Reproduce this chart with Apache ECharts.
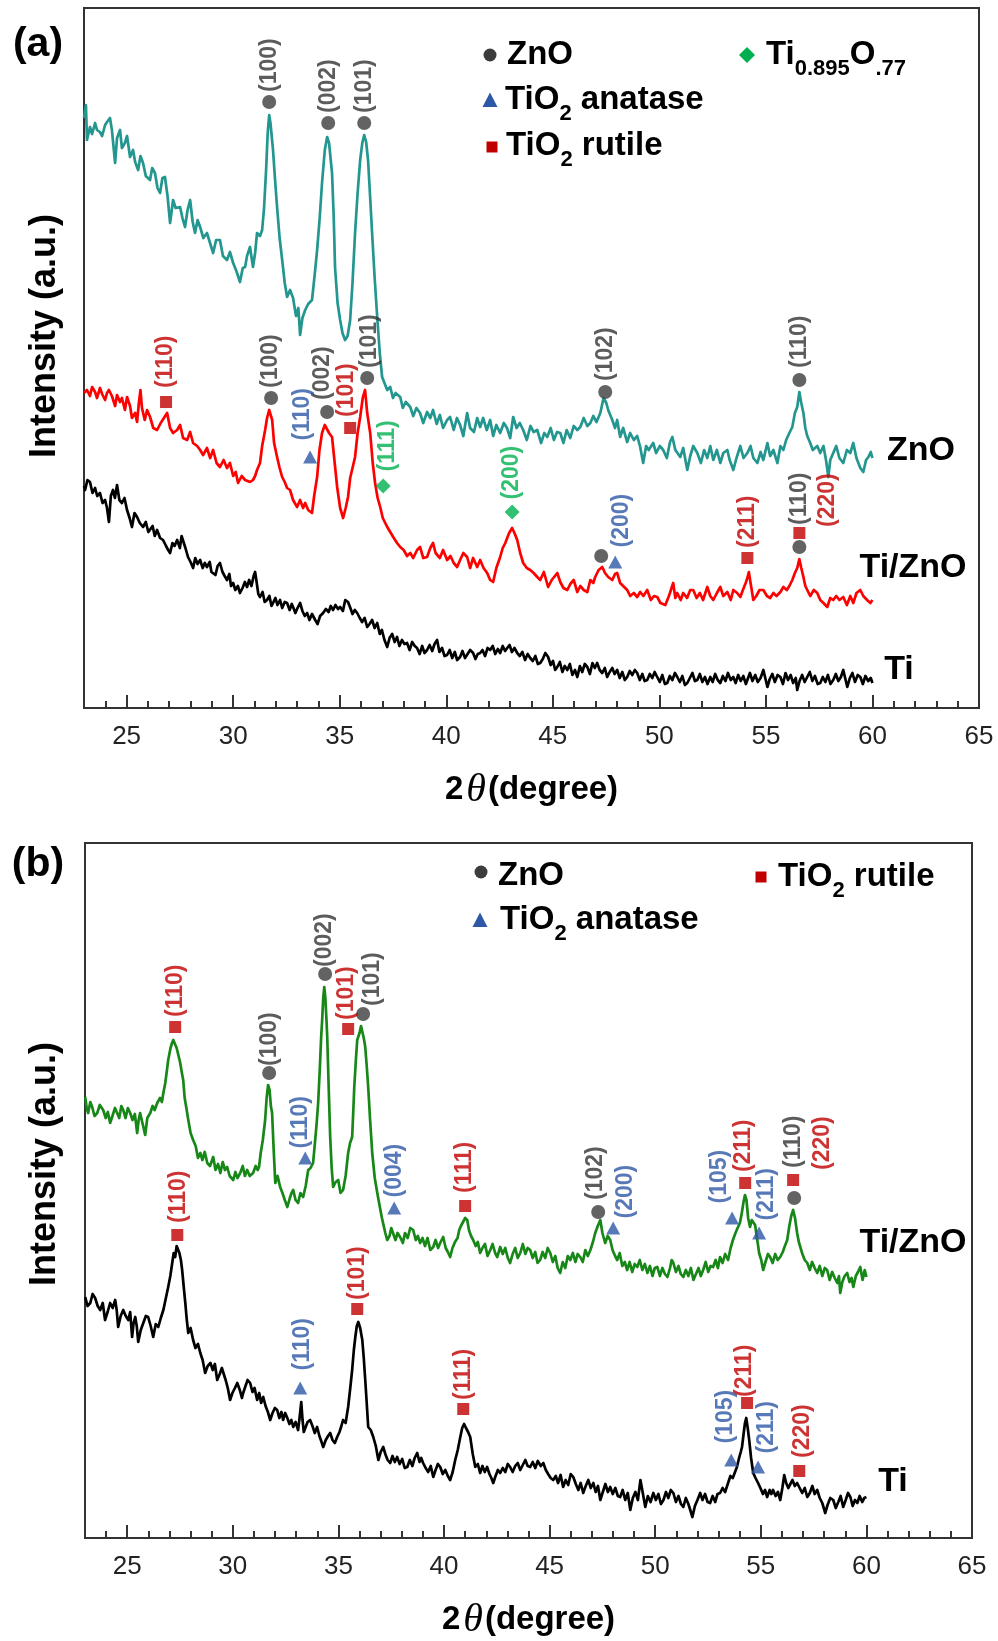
<!DOCTYPE html>
<html>
<head>
<meta charset="utf-8">
<title>XRD patterns</title>
<script src="https://cdn.jsdelivr.net/npm/echarts@6/dist/echarts.min.js"></script>
<style>
  html, body { margin: 0; padding: 0; background: #fff; }
  #main-info { width: 998px; height: 1641px; }
</style>
</head>
<body>
<div id="main-info"></div>
<script>
// x axis ticks (2 theta, degree)
const xMajorTicks = [25, 30, 35, 40, 45, 50, 55, 60, 65];
const xMinorTicks = [];
for (let t = 24; t < 65; t++) { if (t % 5 !== 0) xMinorTicks.push(t); }

// (a) ZnO film, Ti/ZnO, Ti  -- [2theta, intensity a.u.]
const aZnO = [[23.00,590],[23.09,603],[23.14,568],[23.28,581],[23.38,574],[23.52,585],[23.61,578],[23.75,576],[23.85,572],[23.99,583],[24.08,586],[24.22,590],[24.31,578],[24.46,545],[24.55,570],[24.69,578],[24.78,560],[24.92,565],[25.02,572],[25.16,551],[25.30,558],[25.40,546],[25.54,538],[25.65,552],[25.77,545],[25.90,532],[26.10,528],[26.20,540],[26.33,535],[26.45,520],[26.57,515],[26.68,530],[26.80,531],[26.92,512],[27.04,485],[27.18,508],[27.30,500],[27.51,501],[27.62,490],[27.74,481],[27.86,498],[27.98,508],[28.10,486],[28.21,475],[28.33,488],[28.45,481],[28.60,470],[28.77,475],[28.90,466],[29.06,455],[29.20,468],[29.38,468],[29.52,452],[29.71,448],[29.85,456],[30.00,445],[30.15,437],[30.32,426],[30.45,440],[30.56,441],[30.65,452],[30.79,461],[30.93,441],[31.03,455],[31.12,475],[31.26,472],[31.36,478],[31.45,500],[31.55,540],[31.62,575],[31.69,593],[31.75,585],[31.87,558],[31.96,530],[32.06,501],[32.18,470],[32.30,448],[32.42,425],[32.53,411],[32.67,418],[32.81,410],[32.95,392],[33.06,400],[33.14,373],[33.25,390],[33.38,398],[33.52,404],[33.70,408],[33.82,432],[33.94,458],[34.06,490],[34.17,525],[34.30,558],[34.41,571],[34.50,565],[34.64,535],[34.72,490],[34.78,441],[34.90,405],[35.02,388],[35.13,375],[35.25,368],[35.37,372],[35.49,388],[35.60,425],[35.72,475],[35.84,515],[35.96,548],[36.06,565],[36.15,573],[36.24,566],[36.33,548],[36.43,510],[36.52,475],[36.64,430],[36.76,391],[36.88,355],[36.99,331],[37.10,325],[37.23,318],[37.37,321],[37.50,310],[37.62,315],[37.84,311],[37.96,300],[38.10,306],[38.31,301],[38.45,292],[38.60,300],[38.77,295],[38.92,285],[39.10,296],[39.25,290],[39.38,298],[39.55,284],[39.70,293],[39.85,280],[40.04,288],[40.18,291],[40.35,278],[40.50,290],[40.65,283],[40.80,272],[40.98,295],[41.12,280],[41.30,276],[41.45,290],[41.59,281],[41.73,290],[41.90,278],[42.06,288],[42.20,272],[42.35,283],[42.53,275],[42.70,285],[42.85,280],[43.00,270],[43.14,291],[43.30,280],[43.45,285],[43.61,278],[43.78,268],[43.95,282],[44.10,276],[44.27,278],[44.45,265],[44.60,275],[44.74,271],[44.90,280],[45.05,268],[45.20,276],[45.35,275],[45.50,265],[45.65,278],[45.82,270],[45.98,282],[46.15,278],[46.29,281],[46.45,290],[46.62,282],[46.76,285],[46.90,292],[47.05,286],[47.23,295],[47.38,310],[47.51,305],[47.60,298],[47.79,288],[47.92,280],[48.02,288],[48.16,271],[48.30,280],[48.49,266],[48.63,275],[48.80,268],[48.96,272],[49.10,261],[49.24,245],[49.38,262],[49.50,258],[49.71,265],[49.85,255],[50.02,262],[50.18,258],[50.35,250],[50.50,266],[50.61,271],[50.75,258],[50.98,251],[51.12,260],[51.31,238],[51.45,252],[51.59,262],[51.78,255],[51.95,245],[52.10,258],[52.25,250],[52.39,262],[52.53,248],[52.70,258],[52.86,245],[53.00,255],[53.19,258],[53.30,248],[53.47,238],[53.62,250],[53.80,262],[53.95,250],[54.13,255],[54.28,262],[54.41,250],[54.60,245],[54.75,256],[54.88,248],[55.07,265],[55.20,252],[55.35,258],[55.54,245],[55.68,262],[55.82,258],[55.95,268],[56.10,275],[56.24,281],[56.36,295],[56.47,301],[56.57,316],[56.66,305],[56.76,295],[56.85,280],[56.94,272],[57.08,265],[57.20,258],[57.41,262],[57.55,255],[57.70,262],[57.82,248],[57.93,231],[58.02,248],[58.16,255],[58.30,262],[58.45,250],[58.63,245],[58.80,258],[58.96,255],[59.10,265],[59.25,250],[59.43,240],[59.57,236],[59.70,248],[59.81,251],[59.92,256],[60.00,250]];

const aTiZnO = [[23.00,315],[23.14,318],[23.28,312],[23.38,321],[23.52,316],[23.61,310],[23.75,320],[23.85,314],[23.99,308],[24.08,315],[24.17,318],[24.31,312],[24.46,302],[24.55,313],[24.69,306],[24.78,310],[24.92,298],[25.02,311],[25.16,302],[25.25,290],[25.40,295],[25.49,286],[25.58,306],[25.65,318],[25.72,300],[25.85,288],[25.96,298],[26.10,291],[26.25,280],[26.43,278],[26.60,285],[26.75,290],[26.90,295],[27.04,280],[27.18,275],[27.37,278],[27.51,283],[27.65,270],[27.84,268],[27.98,276],[28.12,265],[28.31,262],[28.45,258],[28.59,253],[28.77,260],[28.92,250],[29.06,258],[29.22,245],[29.38,241],[29.55,248],[29.71,240],[29.85,245],[30.00,232],[30.12,236],[30.23,225],[30.40,232],[30.56,228],[30.65,230],[30.79,226],[30.93,228],[31.03,232],[31.12,238],[31.26,245],[31.36,262],[31.50,278],[31.59,290],[31.69,298],[31.83,288],[31.92,265],[32.06,251],[32.18,240],[32.30,231],[32.42,226],[32.53,220],[32.67,218],[32.81,208],[33.00,201],[33.14,208],[33.28,200],[33.38,205],[33.52,198],[33.70,195],[33.80,212],[33.94,231],[34.05,258],[34.17,275],[34.30,283],[34.36,282],[34.50,275],[34.64,271],[34.75,248],[34.88,221],[35.02,200],[35.16,190],[35.28,200],[35.39,211],[35.49,230],[35.60,240],[35.72,251],[35.84,275],[35.96,291],[36.08,310],[36.19,318],[36.29,295],[36.43,275],[36.55,245],[36.66,225],[36.78,210],[36.90,201],[37.02,190],[37.23,181],[37.37,176],[37.51,171],[37.69,165],[37.84,161],[38.00,158],[38.16,152],[38.31,155],[38.45,150],[38.63,158],[38.77,161],[38.92,150],[39.10,151],[39.25,160],[39.38,165],[39.50,155],[39.70,150],[39.85,158],[40.04,148],[40.20,152],[40.35,145],[40.51,141],[40.65,148],[40.80,155],[40.98,151],[41.12,140],[41.26,150],[41.45,141],[41.59,148],[41.75,140],[41.92,135],[42.06,128],[42.20,126],[42.35,140],[42.53,151],[42.65,160],[42.77,165],[42.95,175],[43.09,180],[43.20,175],[43.33,168],[43.47,155],[43.61,145],[43.78,140],[43.94,138],[44.10,135],[44.27,131],[44.41,128],[44.58,136],[44.78,121],[44.95,128],[45.10,132],[45.21,135],[45.35,126],[45.50,120],[45.68,118],[45.82,124],[45.98,128],[46.15,116],[46.29,122],[46.45,118],[46.62,116],[46.76,128],[46.90,125],[46.99,131],[47.15,138],[47.32,141],[47.45,135],[47.60,131],[47.79,128],[47.92,134],[48.02,135],[48.16,125],[48.30,122],[48.49,118],[48.63,112],[48.80,115],[48.96,111],[49.10,116],[49.25,112],[49.43,118],[49.60,108],[49.75,112],[49.90,111],[50.05,105],[50.28,103],[50.45,112],[50.65,125],[50.75,110],[50.84,115],[51.00,108],[51.12,115],[51.30,110],[51.45,118],[51.59,118],[51.75,110],[51.90,115],[52.05,108],[52.25,121],[52.39,112],[52.53,108],[52.70,115],[52.86,121],[53.00,112],[53.19,116],[53.35,108],[53.47,118],[53.65,115],[53.80,111],[53.92,118],[54.05,125],[54.13,130],[54.20,136],[54.28,125],[54.41,108],[54.55,112],[54.70,118],[54.88,118],[55.05,112],[55.20,110],[55.35,115],[55.50,112],[55.68,116],[55.82,121],[55.98,118],[56.10,122],[56.24,128],[56.36,135],[56.47,140],[56.57,149],[56.66,140],[56.76,131],[56.85,122],[56.94,118],[57.08,112],[57.25,118],[57.41,115],[57.55,108],[57.70,105],[57.88,101],[58.02,110],[58.16,108],[58.30,112],[58.45,108],[58.63,111],[58.80,103],[58.96,112],[59.10,105],[59.25,115],[59.43,118],[59.57,112],[59.75,108],[59.90,105],[60.00,108]];

const aTi = [[23.00,222],[23.05,218],[23.16,228],[23.28,226],[23.40,215],[23.52,220],[23.62,212],[23.75,215],[23.87,205],[23.99,208],[24.08,200],[24.17,186],[24.26,212],[24.36,218],[24.45,210],[24.55,223],[24.66,208],[24.78,205],[24.90,210],[25.02,198],[25.14,190],[25.25,181],[25.37,195],[25.49,191],[25.62,185],[25.77,181],[25.90,186],[26.02,176],[26.10,175],[26.22,182],[26.32,172],[26.43,178],[26.57,170],[26.71,168],[26.85,162],[26.95,158],[27.04,155],[27.15,165],[27.25,162],[27.37,168],[27.50,160],[27.58,172],[27.65,171],[27.76,160],[27.88,151],[28.00,146],[28.12,140],[28.22,150],[28.33,144],[28.45,148],[28.57,140],[28.67,145],[28.77,141],[28.90,146],[28.98,136],[29.06,138],[29.17,133],[29.27,142],[29.38,145],[29.50,136],[29.60,132],[29.71,128],[29.82,134],[29.90,122],[30.00,125],[30.10,118],[30.22,122],[30.32,115],[30.44,120],[30.55,126],[30.65,121],[30.75,128],[30.86,122],[30.96,132],[31.03,136],[31.10,126],[31.18,114],[31.26,111],[31.38,116],[31.48,106],[31.59,108],[31.70,112],[31.80,102],[31.87,105],[31.98,110],[32.08,103],[32.20,108],[32.30,100],[32.42,106],[32.53,105],[32.65,98],[32.75,104],[32.81,101],[32.92,95],[33.02,100],[33.14,105],[33.25,97],[33.36,92],[33.47,95],[33.58,88],[33.70,94],[33.85,88],[33.96,84],[34.08,92],[34.22,95],[34.35,99],[34.48,96],[34.58,102],[34.69,98],[34.80,103],[34.92,99],[35.02,101],[35.15,97],[35.26,108],[35.39,106],[35.50,100],[35.60,94],[35.71,98],[35.82,95],[35.94,90],[36.05,86],[36.17,90],[36.29,81],[36.40,84],[36.52,88],[36.64,80],[36.76,85],[36.88,74],[36.98,78],[37.10,68],[37.23,61],[37.34,70],[37.46,74],[37.58,66],[37.69,71],[37.80,62],[37.92,68],[38.04,64],[38.16,65],[38.28,58],[38.40,66],[38.52,62],[38.63,60],[38.75,54],[38.87,62],[38.98,55],[39.10,58],[39.22,63],[39.34,57],[39.45,64],[39.57,68],[39.68,56],[39.80,60],[39.92,52],[40.04,53],[40.16,58],[40.28,50],[40.40,56],[40.51,48],[40.65,51],[40.76,57],[40.88,50],[41.00,54],[41.12,58],[41.26,55],[41.37,49],[41.48,54],[41.59,55],[41.70,58],[41.82,52],[41.94,60],[42.06,58],[42.18,62],[42.30,54],[42.42,59],[42.53,55],[42.65,62],[42.76,57],[42.86,60],[42.97,63],[43.08,56],[43.20,60],[43.33,55],[43.45,52],[43.57,56],[43.70,48],[43.82,54],[43.94,50],[44.06,47],[44.18,52],[44.30,44],[44.41,45],[44.53,49],[44.65,55],[44.78,51],[44.90,43],[45.01,47],[45.11,38],[45.21,41],[45.33,46],[45.45,36],[45.56,42],[45.68,38],[45.80,44],[45.92,33],[46.04,38],[46.15,31],[46.27,42],[46.38,36],[46.50,44],[46.62,41],[46.74,34],[46.86,45],[46.97,40],[47.08,45],[47.20,38],[47.32,35],[47.44,40],[47.55,31],[47.67,36],[47.79,40],[47.90,34],[48.02,38],[48.14,30],[48.26,36],[48.38,28],[48.49,31],[48.61,37],[48.73,33],[48.85,38],[48.96,35],[49.08,28],[49.20,34],[49.31,27],[49.43,28],[49.55,34],[49.67,30],[49.78,36],[49.90,31],[50.02,26],[50.14,33],[50.26,24],[50.37,25],[50.49,32],[50.61,28],[50.73,35],[50.84,31],[50.96,26],[51.08,32],[51.20,23],[51.31,25],[51.43,30],[51.55,35],[51.67,27],[51.78,28],[51.90,34],[52.02,26],[52.14,31],[52.26,24],[52.39,31],[52.50,26],[52.62,34],[52.74,28],[52.86,25],[52.98,32],[53.10,27],[53.22,35],[53.35,28],[53.47,31],[53.58,25],[53.70,33],[53.82,27],[53.94,32],[54.06,24],[54.13,28],[54.25,35],[54.37,27],[54.50,33],[54.62,26],[54.75,30],[54.88,38],[54.97,30],[55.07,21],[55.18,29],[55.30,34],[55.42,26],[55.55,33],[55.68,31],[55.80,24],[55.92,35],[56.04,28],[56.16,33],[56.28,25],[56.40,30],[56.47,18],[56.58,27],[56.70,33],[56.82,26],[56.94,31],[57.06,36],[57.18,27],[57.30,32],[57.43,24],[57.55,25],[57.67,31],[57.79,26],[57.91,33],[58.03,24],[58.16,28],[58.28,34],[58.40,27],[58.52,31],[58.63,38],[58.73,29],[58.82,21],[58.94,30],[59.06,35],[59.18,26],[59.31,33],[59.43,31],[59.55,24],[59.67,32],[59.80,27],[59.92,30],[60.00,25]];

// (a) peak marks -- [2theta, intensity, hkl]
const aZnOPeaks = [[31.69,606,'(100)'],[34.46,585,'(002)'],[36.15,585,'(101)'],[47.46,316,'(102)'],[56.57,328,'(110)'],
                   [31.78,310,'(100)'],[34.41,296,'(002)'],[36.29,330,'(101)'],[47.27,152,''],[56.57,161,'(110)']];
const aAnatasePeaks = [[33.61,251,'(110)'],[47.93,146,'(200)']];
const aRutilePeaks = [[26.85,306,'(110)'],[35.49,280,'(101)'],[54.13,150,'(211)'],[56.57,175,'(220)']];
const aTiOxPeaks = [[37.04,222,'(111)'],[43.09,196,'(200)']];

// (b) Ti/ZnO, Ti
const bTiZnO = [[23.01,441],[23.08,430],[23.15,425],[23.25,436],[23.34,431],[23.45,422],[23.58,425],[23.70,433],[23.86,428],[23.98,420],[24.08,426],[24.19,415],[24.30,422],[24.42,430],[24.52,425],[24.62,420],[24.72,432],[24.81,428],[24.92,420],[25.03,430],[25.14,425],[25.25,418],[25.36,424],[25.47,405],[25.54,418],[25.61,425],[25.72,415],[25.85,403],[25.95,420],[26.09,425],[26.20,432],[26.30,428],[26.42,435],[26.55,440],[26.64,436],[26.71,445],[26.80,455],[26.88,468],[26.94,478],[27.05,490],[27.12,495],[27.18,498],[27.26,494],[27.34,490],[27.41,488],[27.50,476],[27.58,466],[27.65,458],[27.72,440],[27.80,430],[27.89,418],[28.00,405],[28.12,398],[28.24,392],[28.35,380],[28.46,385],[28.56,378],[28.67,386],[28.79,375],[28.92,372],[29.07,381],[29.18,368],[29.30,374],[29.41,365],[29.52,376],[29.63,368],[29.73,371],[29.85,362],[30.02,358],[30.12,366],[30.22,360],[30.35,365],[30.47,372],[30.57,362],[30.68,368],[30.80,362],[30.96,365],[31.08,372],[31.18,368],[31.24,371],[31.32,385],[31.42,398],[31.53,418],[31.60,440],[31.67,453],[31.74,448],[31.80,432],[31.86,425],[31.93,390],[32.01,355],[32.12,362],[32.24,351],[32.35,345],[32.46,338],[32.58,331],[32.70,340],[32.78,345],[32.86,348],[32.97,338],[33.09,335],[33.20,345],[33.33,341],[33.45,352],[33.57,368],[33.68,370],[33.80,375],[33.90,398],[33.97,415],[34.04,435],[34.12,470],[34.18,500],[34.23,518],[34.28,540],[34.33,551],[34.38,540],[34.43,520],[34.47,501],[34.54,450],[34.61,401],[34.68,370],[34.75,351],[34.87,356],[34.99,358],[35.10,345],[35.22,348],[35.34,362],[35.46,385],[35.55,395],[35.65,401],[35.70,425],[35.75,451],[35.82,476],[35.89,498],[36.00,505],[36.07,512],[36.13,510],[36.20,500],[36.27,491],[36.34,472],[36.41,451],[36.50,418],[36.60,385],[36.72,360],[36.84,345],[36.97,330],[37.06,320],[37.12,318],[37.22,305],[37.31,298],[37.42,302],[37.50,310],[37.59,308],[37.70,298],[37.80,305],[37.92,301],[38.05,295],[38.15,305],[38.28,300],[38.40,310],[38.54,308],[38.66,298],[38.76,302],[38.87,295],[38.98,300],[39.10,292],[39.22,300],[39.35,288],[39.49,291],[39.60,298],[39.72,290],[39.84,296],[39.96,301],[40.08,290],[40.18,286],[40.29,281],[40.40,290],[40.52,296],[40.64,300],[40.72,308],[40.80,312],[40.90,316],[41.00,320],[41.10,318],[41.18,308],[41.28,302],[41.38,298],[41.50,292],[41.60,296],[41.71,285],[41.82,290],[41.94,294],[42.06,282],[42.19,288],[42.30,294],[42.42,285],[42.52,281],[42.66,291],[42.78,284],[42.90,290],[43.02,280],[43.13,275],[43.25,284],[43.37,290],[43.49,280],[43.61,285],[43.73,294],[43.85,284],[43.96,290],[44.08,288],[44.20,280],[44.32,286],[44.43,275],[44.55,278],[44.67,286],[44.79,280],[44.91,290],[45.03,285],[45.15,276],[45.27,282],[45.38,270],[45.50,265],[45.62,276],[45.74,270],[45.86,282],[45.98,278],[46.10,285],[46.22,276],[46.33,284],[46.45,281],[46.57,276],[46.69,288],[46.81,282],[46.93,288],[47.05,296],[47.16,305],[47.28,312],[47.40,318],[47.50,305],[47.63,295],[47.75,302],[47.87,298],[47.98,288],[48.10,282],[48.20,278],[48.32,285],[48.44,272],[48.56,276],[48.67,268],[48.79,276],[48.91,266],[49.03,274],[49.15,271],[49.27,278],[49.39,268],[49.51,274],[49.63,265],[49.75,272],[49.87,262],[49.98,270],[50.10,271],[50.22,262],[50.34,270],[50.46,264],[50.58,261],[50.70,270],[50.78,278],[50.86,275],[50.98,266],[51.10,272],[51.21,264],[51.33,261],[51.45,268],[51.57,262],[51.69,270],[51.81,258],[51.93,264],[52.05,270],[52.16,262],[52.27,268],[52.39,276],[52.51,266],[52.62,272],[52.74,271],[52.86,278],[52.97,270],[53.07,281],[53.19,275],[53.31,284],[53.45,278],[53.57,290],[53.68,298],[53.80,305],[53.90,310],[54.01,315],[54.10,325],[54.18,336],[54.25,343],[54.32,338],[54.40,320],[54.49,311],[54.57,318],[54.65,320],[54.73,313],[54.82,300],[54.92,285],[55.02,278],[55.11,268],[55.22,276],[55.34,284],[55.44,281],[55.56,275],[55.68,284],[55.80,278],[55.92,281],[56.04,286],[56.14,292],[56.25,298],[56.35,312],[56.44,322],[56.53,328],[56.62,320],[56.72,305],[56.80,296],[56.87,291],[56.97,284],[57.08,278],[57.20,275],[57.32,268],[57.43,276],[57.55,270],[57.67,265],[57.79,272],[57.91,262],[58.03,270],[58.14,268],[58.26,258],[58.38,266],[58.50,260],[58.62,255],[58.70,262],[58.76,245],[58.86,256],[58.97,262],[59.09,265],[59.20,256],[59.30,260],[59.38,251],[59.50,262],[59.60,266],[59.71,271],[59.82,258],[59.92,268],[60.00,261]];

const bTi = [[23.01,241],[23.12,232],[23.25,235],[23.36,244],[23.48,240],[23.60,232],[23.72,228],[23.84,235],[23.95,218],[24.07,226],[24.19,235],[24.31,230],[24.43,238],[24.50,228],[24.57,211],[24.69,222],[24.81,228],[24.93,222],[25.05,218],[25.14,226],[25.23,201],[25.30,215],[25.38,221],[25.45,212],[25.52,196],[25.64,208],[25.76,215],[25.88,222],[25.99,221],[26.11,212],[26.23,201],[26.35,214],[26.47,211],[26.59,220],[26.71,228],[26.83,240],[26.94,251],[27.04,262],[27.13,275],[27.20,285],[27.27,281],[27.34,292],[27.41,291],[27.47,285],[27.54,278],[27.60,268],[27.68,250],[27.75,235],[27.82,218],[27.89,205],[28.00,210],[28.12,198],[28.23,190],[28.35,194],[28.46,185],[28.57,178],[28.69,165],[28.81,172],[28.94,175],[29.05,168],[29.15,174],[29.26,158],[29.38,164],[29.48,170],[29.55,168],[29.66,158],[29.76,150],[29.87,138],[29.98,145],[30.10,150],[30.21,155],[30.33,148],[30.43,140],[30.49,145],[30.60,152],[30.70,158],[30.82,155],[30.93,146],[31.03,150],[31.15,138],[31.25,145],[31.34,135],[31.44,141],[31.55,132],[31.66,126],[31.77,118],[31.88,125],[31.99,130],[32.10,128],[32.20,120],[32.30,126],[32.38,118],[32.48,125],[32.58,120],[32.68,114],[32.77,118],[32.86,111],[32.97,116],[33.09,108],[33.16,120],[33.24,136],[33.30,118],[33.36,106],[33.43,108],[33.54,116],[33.66,118],[33.77,112],[33.88,105],[33.99,111],[34.10,102],[34.20,96],[34.28,91],[34.40,98],[34.51,102],[34.61,105],[34.72,98],[34.83,95],[34.94,101],[35.05,106],[35.14,112],[35.22,118],[35.34,115],[35.46,131],[35.56,150],[35.65,168],[35.73,188],[35.80,201],[35.87,212],[35.94,216],[36.03,210],[36.13,198],[36.20,180],[36.27,158],[36.34,135],[36.41,111],[36.53,108],[36.65,101],[36.77,92],[36.89,78],[37.00,86],[37.12,91],[37.22,84],[37.33,78],[37.45,75],[37.56,82],[37.67,76],[37.78,81],[37.90,74],[38.02,79],[38.14,70],[38.26,71],[38.38,78],[38.50,72],[38.61,80],[38.73,85],[38.84,76],[38.92,80],[39.01,75],[39.13,70],[39.25,66],[39.37,72],[39.49,61],[39.60,68],[39.71,74],[39.82,71],[39.94,64],[40.06,68],[40.18,62],[40.29,58],[40.41,66],[40.53,78],[40.65,88],[40.77,101],[40.86,110],[40.95,114],[41.04,110],[41.14,106],[41.24,101],[41.36,84],[41.48,71],[41.60,74],[41.71,65],[41.82,72],[41.93,66],[42.04,71],[42.15,64],[42.24,60],[42.33,55],[42.44,62],[42.55,68],[42.66,65],[42.78,70],[42.90,66],[43.02,74],[43.13,71],[43.25,66],[43.37,72],[43.49,75],[43.61,68],[43.73,73],[43.85,78],[43.96,72],[44.08,71],[44.20,76],[44.32,70],[44.44,77],[44.58,72],[44.70,75],[44.82,68],[44.93,64],[45.05,60],[45.17,58],[45.29,62],[45.40,55],[45.52,63],[45.64,51],[45.76,58],[45.88,53],[46.00,64],[46.12,61],[46.24,54],[46.36,48],[46.47,55],[46.59,45],[46.71,52],[46.83,58],[46.95,50],[47.07,55],[47.18,46],[47.29,52],[47.40,38],[47.52,46],[47.64,54],[47.76,46],[47.87,51],[47.99,44],[48.11,50],[48.23,42],[48.34,41],[48.46,48],[48.58,38],[48.70,45],[48.82,28],[48.94,40],[49.06,46],[49.18,38],[49.30,58],[49.42,44],[49.53,31],[49.65,42],[49.78,36],[49.91,45],[50.03,38],[50.15,44],[50.27,34],[50.39,38],[50.51,46],[50.62,40],[50.74,48],[50.86,45],[50.98,36],[51.10,42],[51.22,34],[51.33,31],[51.45,40],[51.57,34],[51.66,28],[51.76,21],[51.88,32],[52.00,38],[52.13,45],[52.24,38],[52.36,44],[52.48,36],[52.60,35],[52.72,42],[52.84,36],[52.95,44],[53.07,45],[53.19,50],[53.31,46],[53.45,55],[53.56,62],[53.67,60],[53.78,66],[53.87,71],[53.97,80],[54.05,86],[54.11,91],[54.19,105],[54.25,115],[54.31,120],[54.38,110],[54.45,98],[54.54,80],[54.64,65],[54.75,60],[54.87,55],[54.98,50],[55.10,44],[55.20,48],[55.30,41],[55.42,48],[55.50,44],[55.58,48],[55.70,42],[55.81,46],[55.92,38],[56.02,50],[56.11,63],[56.20,55],[56.30,50],[56.39,51],[56.50,58],[56.61,52],[56.72,55],[56.84,50],[56.96,45],[57.08,50],[57.20,41],[57.32,45],[57.44,52],[57.55,44],[57.67,48],[57.79,40],[57.91,35],[58.05,25],[58.16,33],[58.29,40],[58.43,38],[58.55,30],[58.67,36],[58.78,42],[58.90,31],[59.02,38],[59.13,45],[59.24,41],[59.35,32],[59.46,38],[59.57,35],[59.68,42],[59.80,36],[59.90,40],[60.00,41]];

const bZnOPeaks = [[31.72,465,'(100)'],[34.37,564,'(002)'],[36.17,524,'(101)'],[47.30,326,'(102)'],[56.58,340,'(110)']];
const bAnatasePeaks = [[33.43,380,'(110)'],[37.64,330,'(004)'],[48.01,310,'(200)'],[53.64,320,'(105)'],[54.92,305,'(211)'],
                       [33.19,150,'(110)'],[53.60,78,'(105)'],[54.87,71,'(211)']];
const bRutilePeaks = [[27.27,511,'(110)'],[35.46,509,'(101)'],[41.00,332,'(111)'],[54.26,355,'(211)'],[56.53,358,'(220)'],
                      [27.37,303,'(110)'],[35.89,229,'(101)'],[40.91,129,'(111)'],[54.35,135,'(211)'],[56.82,67,'(220)']];

// screen nudges for the hkl labels [right, down] in px, same order as the peaks above
const aZnOShift = [[0,0],[0,0],[0,0],[0,-1],[0,-2],[0,0],[-4,-2],[2,0],[0,0],[0,-12]];
const aAnataseShift = [[-7,-7],[6,-5]];
const aRutileShift = [[0,-5],[-3,-2],[0,-1],[28,3]];
const aTiOxShift = [[4,-4],[0,-2]];
const bZnOShift = [[0,3],[0,3],[10,2],[-3,-2],[-1,-20]];
const bAnataseShift = [[-5,0],[0,-1],[12,0],[-12,-5],[8,-3],[2,-8],[-6,-7],[9,-4]];
const bRutileShift = [[0,-1],[-1,0],[0,-4],[-2,-2],[30,-1],[1,-3],[0,0],[0,0],[-2,3],[3,-4]];

const FONT = '"Liberation Sans", Arial, sans-serif';
const C = {
    teal: '#22968f', red: '#ff0000', black: '#000000', green: '#178717',
    zno: '#3c3c3c', anatase: '#2e58a6', rutile: '#c00000', tiox: '#00b050'
};

function marks(list, shifts) {
    return list.map(function (p, i) {
        var s = shifts[i] || [0, 0];
        // the label is turned 90deg, its offset is read in the turned frame
        return { name: p[2], value: [p[0], p[1]], label: { offset: [-s[1], s[0]] } };
    });
}

function lineSeries(name, g, data, color) {
    return {
        name: name, type: 'line', xAxisIndex: g * 2, yAxisIndex: g,
        data: data, showSymbol: false, symbol: 'none', silent: true,
        lineStyle: { color: color, width: 2.7, join: 'round' }, z: 2
    };
}

function markSeries(name, g, list, shifts, symbol, size, color, labelColor) {
    return {
        name: name, type: 'scatter', xAxisIndex: g * 2, yAxisIndex: g,
        symbol: symbol, symbolSize: size, silent: true, z: 5,
        itemStyle: { color: color },
        label: {
            show: true, position: 'top', rotate: 90, align: 'left', verticalAlign: 'middle',
            distance: 3, formatter: '{b}', color: labelColor,
            fontSize: 23, fontWeight: 'bold', fontFamily: FONT
        },
        data: marks(list, shifts)
    };
}

function xAxes(g) {
    var line = { color: '#333', width: 2 };
    return [{
        gridIndex: g, type: 'value', min: 23, max: 65, position: 'bottom',
        axisLine: { lineStyle: line },
        axisTick: { inside: true, length: 13, customValues: xMajorTicks, lineStyle: line },
        axisLabel: { customValues: xMajorTicks, fontSize: 26, color: '#222', margin: 16, fontFamily: FONT },
        splitLine: { show: false },
        name: '{n|2}{t|θ}{n|(degree)}', nameLocation: 'middle', nameGap: 62,
        nameTextStyle: {
            rich: {
                n: { fontSize: 33, fontWeight: 'bold', fontFamily: FONT, color: '#000' },
                t: { fontSize: 40, fontStyle: 'italic', fontFamily: '"Liberation Serif", serif', color: '#000', padding: [0, 2, 0, 3] }
            }
        }
    }, {
        gridIndex: g, type: 'value', min: 23, max: 65, position: 'bottom',
        axisLine: { show: false },
        axisTick: { inside: true, length: 7, customValues: xMinorTicks, lineStyle: line },
        axisLabel: { show: false }, splitLine: { show: false }
    }];
}

function yAxis(g, max) {
    return {
        gridIndex: g, type: 'value', min: 0, max: max,
        axisLine: { show: true, lineStyle: { color: '#333', width: 2 } },
        axisTick: { show: false }, axisLabel: { show: false }, splitLine: { show: false }
    };
}

// legend and panel text
var legendRich = {
    m: { fontSize: 33, fontWeight: 'bold', fontFamily: FONT, fill: '#000', lineHeight: 50 },
    s: { fontSize: 22, fontWeight: 'bold', fontFamily: FONT, fill: '#000', lineHeight: 22, verticalAlign: 'bottom' }
};
function rtext(x, y, text) {
    return { type: 'text', x: x, y: y, silent: true,
             style: { text: text, rich: legendRich, align: 'left', verticalAlign: 'middle' } };
}
function btext(x, y, text, size, rot) {
    return { type: 'text', x: x, y: y, rotation: rot || 0, silent: true,
             style: { text: text, fontSize: size, fontWeight: 'bold', fontFamily: FONT, fill: '#000',
                      align: 'center', verticalAlign: 'middle' } };
}
function tri(cx, cy, color) {
    return { type: 'polygon', silent: true, shape: { points: [[cx, cy - 7.5], [cx - 7.5, cy + 7], [cx + 7.5, cy + 7]] }, style: { fill: color } };
}
function dot(cx, cy, color) {
    return { type: 'circle', silent: true, shape: { cx: cx, cy: cy, r: 6.5 }, style: { fill: color } };
}
function sq(cx, cy, color) {
    return { type: 'rect', silent: true, shape: { x: cx - 5.5, y: cy - 5.5, width: 11, height: 11 }, style: { fill: color } };
}
function dia(cx, cy, color) {
    return { type: 'polygon', silent: true, shape: { points: [[cx, cy - 8], [cx + 8, cy], [cx, cy + 8], [cx - 8, cy]] }, style: { fill: color } };
}

var myChart = echarts.init(document.getElementById('main-info'));
var option = {
    animation: false,
    backgroundColor: '#fff',
    grid: [
        { left: 84, top: 8, width: 895, height: 700, show: true, borderColor: '#333', borderWidth: 2 },
        { left: 85, top: 843, width: 887, height: 695, show: true, borderColor: '#333', borderWidth: 2 }
    ],
    xAxis: xAxes(0).concat(xAxes(1)),
    yAxis: [yAxis(0, 700), yAxis(1, 695)],
    series: [
        lineSeries('ZnO', 0, aZnO, C.teal),
        lineSeries('Ti/ZnO', 0, aTiZnO, C.red),
        lineSeries('Ti', 0, aTi, C.black),
        markSeries('ZnO peaks', 0, aZnOPeaks, aZnOShift, 'circle', 14, C.zno, '#333'),
        markSeries('anatase', 0, aAnatasePeaks, aAnataseShift, 'triangle', [14, 13], C.anatase, C.anatase),
        markSeries('rutile', 0, aRutilePeaks, aRutileShift, 'rect', 12, C.rutile, C.rutile),
        markSeries('Ti0.895O.77', 0, aTiOxPeaks, aTiOxShift, 'diamond', [15, 15], C.tiox, C.tiox),

        lineSeries('Ti/ZnO b', 1, bTiZnO, C.green),
        lineSeries('Ti b', 1, bTi, C.black),
        markSeries('ZnO peaks b', 1, bZnOPeaks, bZnOShift, 'circle', 14, C.zno, '#333'),
        markSeries('anatase b', 1, bAnatasePeaks, bAnataseShift, 'triangle', [14, 13], C.anatase, C.anatase),
        markSeries('rutile b', 1, bRutilePeaks, bRutileShift, 'rect', 12, C.rutile, C.rutile)
    ],
    graphic: [
        btext(38, 45, '(a)', 41),
        btext(38, 865, '(b)', 41),
        btext(45, 336, 'Intensity (a.u.)', 36, Math.PI / 2),
        btext(45, 1164, 'Intensity (a.u.)', 36, Math.PI / 2),

        dot(490, 55, C.zno), rtext(507, 55, '{m|ZnO}'),
        tri(490, 100, C.anatase), rtext(505, 100, '{m|TiO}{s|2}{m| anatase}'),
        sq(492, 147, C.rutile), rtext(506, 146, '{m|TiO}{s|2}{m| rutile}'),
        dia(747, 55, C.tiox), rtext(766, 55, '{m|Ti}{s|0.895}{m|O}{s|.77}'),
        btext(921, 451, 'ZnO', 34),
        btext(913, 568, 'Ti/ZnO', 34),
        btext(899, 670, 'Ti', 34),

        dot(481, 872, C.zno), rtext(498, 876, '{m|ZnO}'),
        tri(480, 920, C.anatase), rtext(500, 920, '{m|TiO}{s|2}{m| anatase}'),
        sq(761, 877, C.rutile), rtext(778, 877, '{m|TiO}{s|2}{m| rutile}'),
        btext(913, 1243, 'Ti/ZnO', 34),
        btext(893, 1482, 'Ti', 34)
    ]
};
myChart.setOption(option);
</script>
</body>
</html>
